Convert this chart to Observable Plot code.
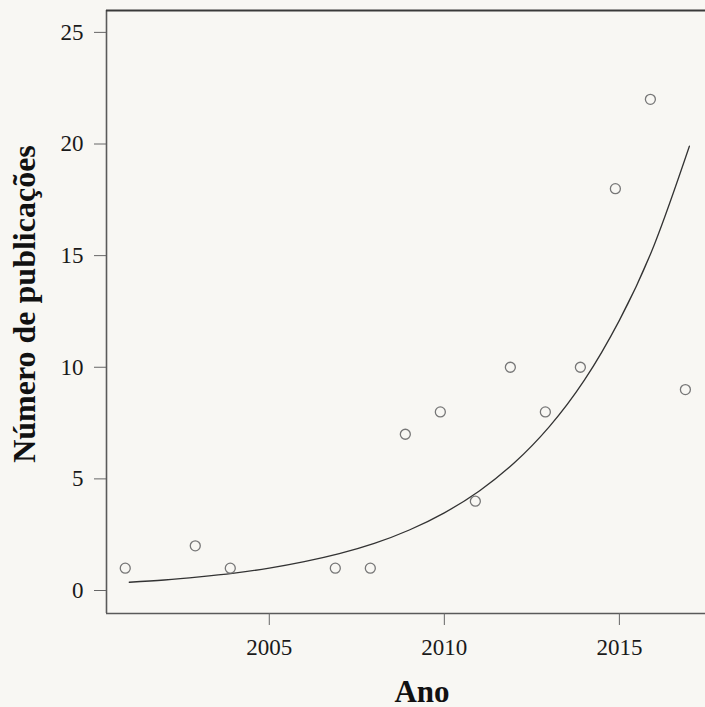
<!DOCTYPE html>
<html><head><meta charset="utf-8">
<script src="https://cdn.jsdelivr.net/npm/d3@7"></script>
<script src="https://cdn.jsdelivr.net/npm/@observablehq/plot@0.6"></script>
<style>html,body{margin:0;padding:0;background:#f8f7f3;overflow:hidden}</style>
</head><body><div id="chart"></div>
<script>
const years = [2001, 2003, 2004, 2007, 2008, 2009, 2010, 2011, 2012, 2013, 2014, 2015, 2016, 2017];
const pubs = [1, 2, 1, 1, 1, 7, 8, 4, 10, 8, 10, 18, 22, 9];
const fitYears = [2001, 2002, 2003, 2004, 2005, 2006, 2007, 2008, 2009, 2010, 2011, 2012, 2013, 2014, 2015, 2016, 2017];
const fitValues = [0.37, 0.47, 0.61, 0.78, 1.0, 1.29, 1.65, 2.11, 2.71, 3.48, 4.46, 5.72, 7.34, 9.42, 12.1, 15.5, 19.9];
const xTicks = [2005, 2010, 2015];
const yTicks = [0, 5, 10, 15, 20, 25];
const xLabel = "Ano";
const yLabel = "Número de publicações";

const points = years.map((year, i) => ({year, n: pubs[i]}));
const fit = fitYears.map((year, i) => ({year, n: fitValues[i]}));
const font = '"Liberation Serif", "Times New Roman", serif';
const xDomain = [2000.35, 2017.46];
const yDomain = [-1.03, 25.98];
const frameStyle = {stroke: "#5a5a5a", strokeWidth: 1.6};

const chart = Plot.plot({
  width: 705, height: 707,
  marginTop: 10, marginBottom: 94, marginLeft: 106, marginRight: 0,
  style: {background: "#f8f7f3", fontFamily: font, color: "#222", overflow: "visible"},
  x: {domain: xDomain},
  y: {domain: yDomain},
  marks: [
    Plot.ruleX([xDomain[0]], frameStyle),
    Plot.ruleY([yDomain[0]], frameStyle),
    Plot.ruleY([yDomain[1]], {stroke: "#3a3a3a", strokeWidth: 1.8}),
    Plot.axisX({ticks: xTicks, tickSize: 12, tickPadding: 13, fontSize: 23, label: null,
      tickFormat: d => String(d), stroke: "#666", fill: "#1a1a1a"}),
    Plot.axisY({ticks: yTicks, tickSize: 12, tickPadding: 11, fontSize: 23, label: null,
      stroke: "#666", fill: "#1a1a1a"}),
    Plot.line(fit, {x: "year", y: "n", curve: "natural", stroke: "#333", strokeWidth: 1.3}),
    Plot.dot(points, {x: "year", y: "n", r: 5, stroke: "#777", strokeWidth: 1.3, fill: "none", dx: -4}),
    Plot.text([xLabel], {text: d => d, frameAnchor: "bottom", lineAnchor: "bottom", dy: 88, dx: 16,
      fontSize: 31, fontWeight: "bold", fill: "#111"}),
    Plot.text([yLabel], {text: d => d, frameAnchor: "left", textAnchor: "middle", rotate: -90, lineAnchor: "bottom",
      dx: -72, dy: -8, fontSize: 32, fontWeight: "bold", fill: "#111"})
  ]
});
document.getElementById("chart").appendChild(chart);
</script>
</body></html>
